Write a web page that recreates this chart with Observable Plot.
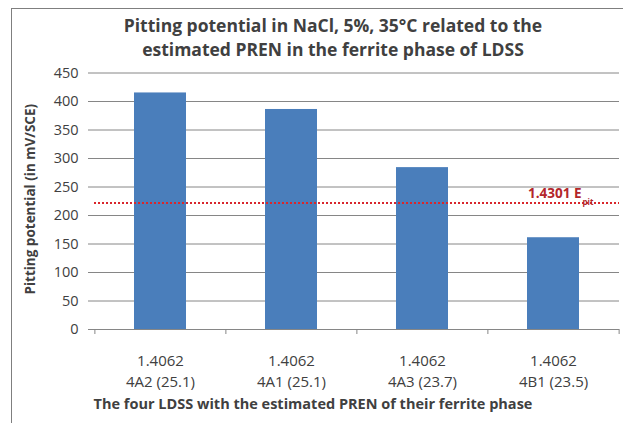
<!DOCTYPE html>
<html>
<head>
<meta charset="utf-8">
<script src="https://cdn.jsdelivr.net/npm/d3@7"></script>
<script src="https://cdn.jsdelivr.net/npm/@observablehq/plot@0.6"></script>
<style>
  html, body { margin: 0; padding: 0; background: #fff; overflow: hidden; }
  #wrap { position: relative; width: 623px; height: 423px; }
  #frame { position: absolute; left: 11px; top: 8px; width: 700px; height: 500px; border: 1px solid #7f7f7f; box-sizing: border-box; }
  #chart { position: absolute; left: 0; top: 0; }
</style>
</head>
<body>
<div id="wrap"><div id="frame"></div><div id="chart"></div></div>
<script>
const grades = ["1.4062", "1.4062", "1.4062", "1.4062"];
const variants = ["4A2 (25.1)", "4A1 (25.1)", "4A3 (23.7)", "4B1 (23.5)"];
const values = [415, 386, 284, 161];
const threshold = 222;
const thresholdLabel = "1.4301 E";
const thresholdSub = "pit";
const yTicks = [0, 50, 100, 150, 200, 250, 300, 350, 400, 450];
const titleText = "Pitting potential in NaCl, 5%, 35°C related to the\nestimated PREN in the ferrite phase of LDSS";
const yTitle = "Pitting potential (in mV/SCE)";
const xTitle = "The four LDSS with the estimated PREN of their ferrite phase";

const data = variants.map((v, i) => ({variant: v, grade: grades[i], value: values[i]}));

const W = 623, H = 423, mL = 94, mR = 4, mT = 72.5, mB = 94;
const step = (W - mL - mR) / variants.length;
const font = "'Open Sans', Lato, sans-serif";
const grey = "#868686";
const txt = "#404040";

const chart = Plot.plot({
  width: W, height: H,
  marginLeft: mL, marginRight: mR, marginTop: mT, marginBottom: mB,
  style: {fontFamily: font, background: "transparent", overflow: "visible"},
  x: {domain: variants, paddingInner: 0.6, paddingOuter: 0.3, axis: null},
  y: {domain: [0, 450], axis: null},
  marks: [
    Plot.ruleY(yTicks, {stroke: grey, strokeWidth: 1}),
    Plot.ruleX([0], {frameAnchor: "left", y1: 0, y2: 450, stroke: grey}),
    Plot.axisY({ticks: yTicks, tickSize: 6, tickPadding: 10, stroke: grey, fontSize: 14.5, fill: txt, label: null, tickFormat: d => d}),
    Plot.barY(data, {x: "variant", y: "value", fill: "#4a7ebb"}),
    Plot.ruleY([0], {stroke: grey, strokeWidth: 1}),
    Plot.ruleX(variants, {x: d => d, dx: -step / 2, y1: 0, y2: 0, insetBottom: -5, stroke: grey}),
    Plot.ruleX(variants.slice(-1), {x: d => d, dx: step / 2, y1: 0, y2: 0, insetBottom: -5, stroke: grey}),
    Plot.text(data, {x: "variant", frameAnchor: "bottom", dy: 36, text: "grade", fontSize: 15, fill: txt}),
    Plot.text(data, {x: "variant", frameAnchor: "bottom", dy: 57, text: "variant", fontSize: 15, fill: txt}),
    Plot.ruleY([threshold], {stroke: "#d9262b", strokeWidth: 2, strokeDasharray: "2,2"}),
    Plot.text([threshold], {y: d => d, frameAnchor: "right", dx: -38, dy: -9, text: () => thresholdLabel, textAnchor: "end", fill: "#b3262b", fontSize: 13.5, fontWeight: "bold"}),
    Plot.text([threshold], {y: d => d, frameAnchor: "right", dx: -37, dy: -1, text: () => thresholdSub, textAnchor: "start", fill: "#b3262b", fontSize: 8, fontWeight: "bold"}),
    Plot.text([titleText], {frameAnchor: "top", textAnchor: "middle", dx: -24, dy: -58, lineAnchor: "top", lineHeight: 1.38, text: d => d, fontSize: 17.5, fontWeight: "bold", fill: txt}),
    Plot.text([yTitle], {frameAnchor: "left", textAnchor: "middle", dx: -64, dy: -2, rotate: -90, text: d => d, fontSize: 13.5, fontWeight: "bold", fill: txt}),
    Plot.text([xTitle], {frameAnchor: "bottom", textAnchor: "middle", dx: -44, dy: 79, text: d => d, fontSize: 14.5, fontWeight: "bold", fill: txt})
  ]
});
document.getElementById("chart").appendChild(chart);
</script>
</body>
</html>
